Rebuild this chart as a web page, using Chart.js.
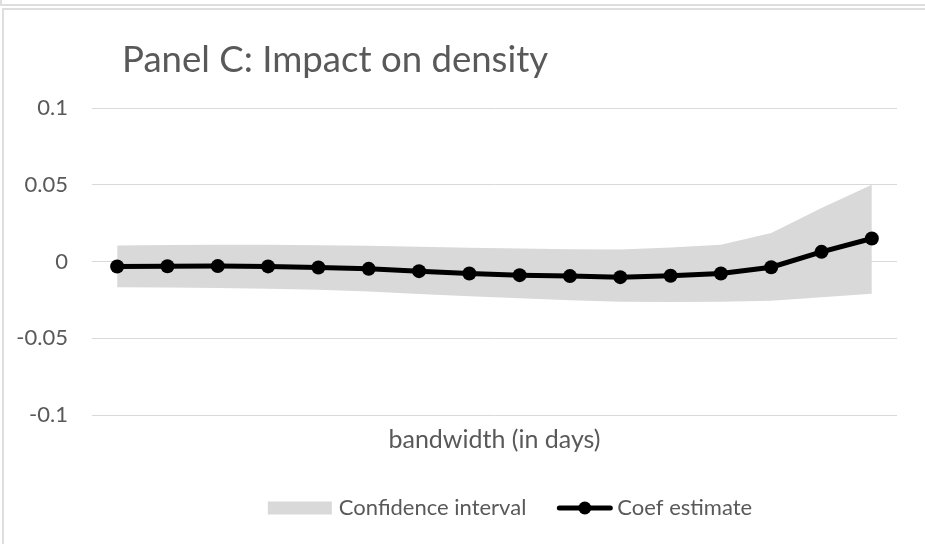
<!DOCTYPE html>
<html>
<head>
<meta charset="utf-8">
<title>Panel C: Impact on density</title>
<script src="https://cdn.jsdelivr.net/npm/chart.js@4.4.1/dist/chart.umd.min.js"></script>
<style>
  html, body { margin: 0; padding: 0; background: #ffffff; overflow: hidden; }
  #wrap { position: relative; width: 925px; height: 544px; overflow: hidden; }
  .frame { position: absolute; box-sizing: border-box; border: 2px solid #dedede; }
  #prev  { left: 0; top: -30px; width: 1100px; height: 36px; }
  #panel { left: 2px; top: 8px; width: 1100px; height: 700px; }
  #c { position: absolute; left: 0; top: 0; }
</style>
</head>
<body>
<div id="wrap">
  <div id="prev" class="frame"></div>
  <div id="panel" class="frame"></div>
  <canvas id="c" width="925" height="544"></canvas>
</div>
<script>
// ---- chart text ----
const chartTitle = 'Panel C: Impact on density';
const xAxisTitle = 'bandwidth (in days)';

// ---- data ----
const bandwidth = [1, 2, 3, 4, 5, 6, 7, 8, 9, 10, 11, 12, 13, 14, 15, 16];
const coefEstimate = [-0.0033, -0.0031, -0.0030, -0.0032, -0.0039, -0.0048, -0.0063, -0.0078,
                      -0.0089, -0.0095, -0.0102, -0.0093, -0.0078, -0.0037, 0.0063, 0.0150];
const ciUpper = [0.0104, 0.0107, 0.0109, 0.0109, 0.0106, 0.0103, 0.0096, 0.0089,
                 0.0085, 0.0080, 0.0078, 0.0091, 0.0109, 0.0185, 0.0348, 0.0500];
const ciLower = [-0.0167, -0.0169, -0.0173, -0.0178, -0.0184, -0.0195, -0.0212, -0.0226,
                 -0.0240, -0.0252, -0.0262, -0.0264, -0.0262, -0.0256, -0.0233, -0.0210];
const yTicks = [0.1, 0.05, 0, -0.05, -0.1];

// ---- styling ----
const TEXT = '#595959';
const GRID = '#d9d9d9';
const BAND = '#d9d9d9';
const FONT = 'Lato, "Open Sans", sans-serif';

// Title drawn at the upper left of the panel
const panelTitle = {
  id: 'panelTitle',
  afterDraw(chart) {
    const ctx = chart.ctx;
    ctx.save();
    ctx.font = `36.6px ${FONT}`;
    ctx.fillStyle = TEXT;
    ctx.textBaseline = 'alphabetic';
    ctx.textAlign = 'left';
    ctx.fillText(chartTitle, 122, 72);
    ctx.restore();
  }
};

// Legend: grey swatch for the band, line with marker for the estimate
const bottomLegend = {
  id: 'bottomLegend',
  afterDraw(chart) {
    const ctx = chart.ctx;
    const dsBand = chart.data.datasets[2];
    const dsCoef = chart.data.datasets[0];
    ctx.save();
    ctx.font = `22px ${FONT}`;
    const w1 = ctx.measureText(dsBand.label).width;
    const w2 = ctx.measureText(dsCoef.label).width;
    const swatchW = 64, gap = 7, itemGap = 31, lineW = 55, gap2 = 5;
    const total = swatchW + gap + w1 + itemGap + lineW + gap2 + w2;
    const cy = 508;
    let x = 510 - total / 2;

    ctx.fillStyle = BAND;
    ctx.fillRect(x, cy - 6.5, swatchW, 13);
    x += swatchW + gap;
    ctx.fillStyle = TEXT;
    ctx.textBaseline = 'middle';
    ctx.textAlign = 'left';
    ctx.fillText(dsBand.label, x, cy);
    x += w1 + itemGap;

    ctx.strokeStyle = '#000000';
    ctx.lineWidth = 5;
    ctx.lineCap = 'round';
    ctx.beginPath();
    ctx.moveTo(x + 2, cy);
    ctx.lineTo(x + lineW - 2, cy);
    ctx.stroke();
    ctx.fillStyle = '#000000';
    ctx.beginPath();
    ctx.arc(x + lineW / 2, cy, 6.5, 0, Math.PI * 2);
    ctx.fill();
    x += lineW + gap2;

    ctx.fillStyle = TEXT;
    ctx.fillText(dsCoef.label, x, cy);
    ctx.restore();
  }
};

new Chart(document.getElementById('c'), {
  type: 'line',
  data: {
    labels: bandwidth,
    datasets: [
      {
        label: 'Coef estimate',
        data: coefEstimate,
        borderColor: '#000000',
        borderWidth: 5,
        pointRadius: 7,
        pointHoverRadius: 7,
        pointBackgroundColor: '#000000',
        pointBorderWidth: 0,
        tension: 0,
        fill: false
      },
      {
        label: 'ci lower',
        data: ciLower,
        borderWidth: 0,
        pointRadius: 0,
        fill: false
      },
      {
        label: 'Confidence interval',
        data: ciUpper,
        borderWidth: 0,
        pointRadius: 0,
        backgroundColor: BAND,
        fill: 1
      }
    ]
  },
  options: {
    responsive: false,
    animation: false,
    devicePixelRatio: 1,
    layout: { padding: { top: 108, right: 28, bottom: 89, left: 0 } },
    plugins: {
      legend: { display: false },
      title: { display: false },
      tooltip: { enabled: false }
    },
    scales: {
      x: {
        type: 'category',
        offset: true,
        grid: { display: false, drawTicks: false },
        border: { display: false },
        ticks: { display: false },
        title: {
          display: true,
          text: xAxisTitle,
          color: TEXT,
          font: { family: FONT, size: 25, lineHeight: 1.2 },
          padding: { top: 10, bottom: 0 }
        }
      },
      y: {
        min: -0.1,
        max: 0.1,
        afterBuildTicks(scale) {
          scale.ticks = yTicks.map(v => ({ value: v }));
        },
        afterFit(scale) { scale.width = 92; },
        grid: { color: GRID, lineWidth: 1, drawTicks: false },
        border: { display: false },
        ticks: {
          padding: 24,
          color: TEXT,
          font: { family: FONT, size: 22 },
          callback: v => String(v)
        }
      }
    }
  },
  plugins: [panelTitle, bottomLegend]
});
</script>
</body>
</html>
